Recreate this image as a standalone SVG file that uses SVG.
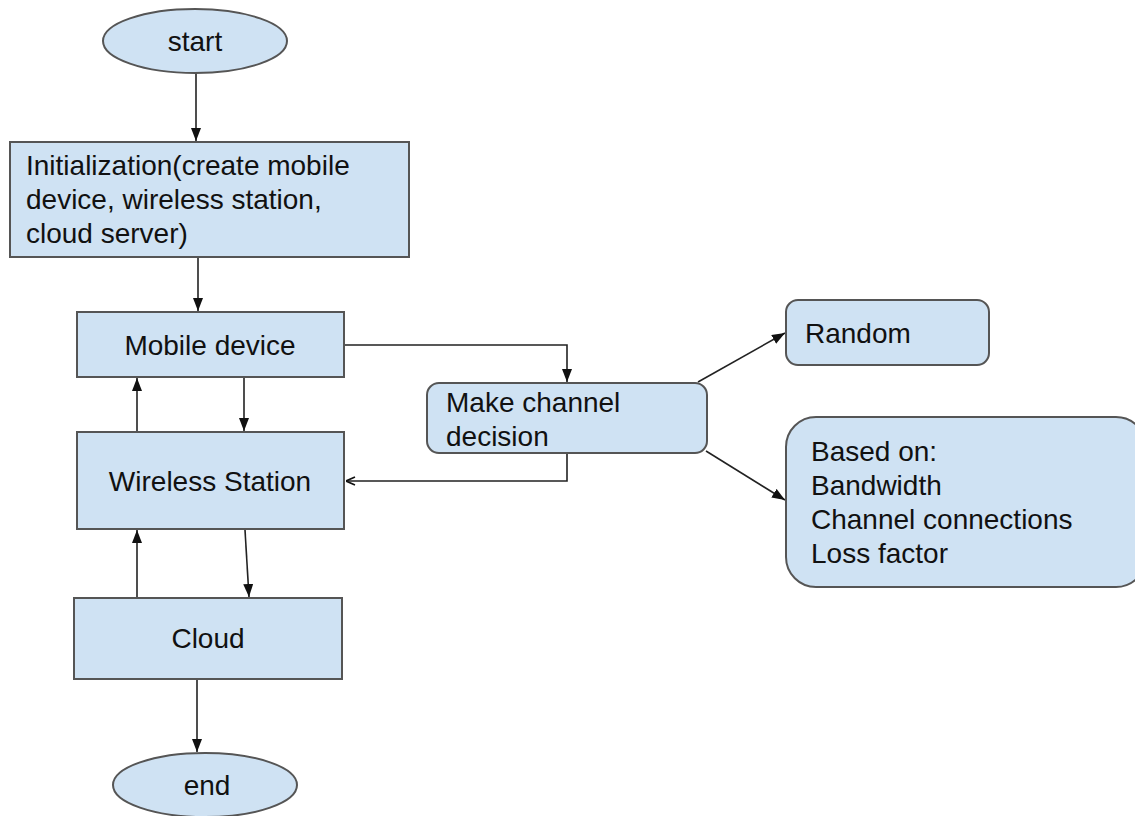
<svg xmlns="http://www.w3.org/2000/svg" width="1135" height="816" viewBox="0 0 1135 816">
<style>
.n{fill:#cfe2f3;stroke:#555;stroke-width:2}
.t{font-family:"Liberation Sans",Arial,sans-serif;font-size:28px;fill:#111}
.c{fill:none;stroke:#222;stroke-width:1.6}
</style>
<defs>
<marker id="ah" viewBox="0 0 13 10" refX="13" refY="5" markerWidth="13" markerHeight="10" markerUnits="userSpaceOnUse" orient="auto">
<path d="M0,0 L13,5 L0,10 z" fill="#111"/>
</marker>
<marker id="oh" viewBox="0 0 10 10" refX="10" refY="5" markerWidth="10" markerHeight="10" markerUnits="userSpaceOnUse" orient="auto">
<path d="M1,1 L10,5 L1,9" fill="none" stroke="#111" stroke-width="1.6"/>
</marker>
</defs>
<rect width="1135" height="816" fill="#fff"/>
<g id="connectors">
<line class="c" x1="196" y1="73" x2="196" y2="141" marker-end="url(#ah)"/>
<line class="c" x1="198" y1="258" x2="198" y2="311" marker-end="url(#ah)"/>
<line class="c" x1="244" y1="378" x2="244" y2="431" marker-end="url(#ah)"/>
<line class="c" x1="137" y1="431" x2="137" y2="378" marker-end="url(#ah)"/>
<polyline class="c" points="345,345 567,345 567,382" marker-end="url(#ah)"/>
<polyline class="c" points="567,454 567,481 346,481" marker-end="url(#oh)"/>
<line class="c" x1="698" y1="382" x2="785" y2="333" marker-end="url(#ah)"/>
<line class="c" x1="706" y1="451" x2="785" y2="500" marker-end="url(#ah)"/>
<line class="c" x1="137" y1="597" x2="137" y2="530" marker-end="url(#ah)"/>
<line class="c" x1="245" y1="530" x2="249" y2="597" marker-end="url(#ah)"/>
<line class="c" x1="197" y1="680" x2="197" y2="752" marker-end="url(#ah)"/>
</g>
<g id="start">
<ellipse class="n" cx="195" cy="41" rx="92" ry="32"/>
<text class="t" x="195" y="51" text-anchor="middle">start</text>
</g>
<g id="init">
<rect class="n" x="10" y="142" width="399" height="115"/>
<text class="t" x="26" y="175">Initialization(create mobile</text>
<text class="t" x="26" y="209">device, wireless station,</text>
<text class="t" x="26" y="243">cloud server)</text>
</g>
<g id="mobile">
<rect class="n" x="77" y="312" width="267" height="65"/>
<text class="t" x="210" y="355" text-anchor="middle">Mobile device</text>
</g>
<g id="wireless">
<rect class="n" x="77" y="432" width="267" height="97"/>
<text class="t" x="210" y="491" text-anchor="middle">Wireless Station</text>
</g>
<g id="cloud">
<rect class="n" x="74" y="598" width="268" height="81"/>
<text class="t" x="208" y="648" text-anchor="middle">Cloud</text>
</g>
<g id="end">
<ellipse class="n" cx="205" cy="785" rx="92" ry="32"/>
<text class="t" x="207" y="795" text-anchor="middle">end</text>
</g>
<g id="decision">
<rect class="n" x="427" y="383" width="280" height="70" rx="12"/>
<text class="t" x="446" y="412">Make channel</text>
<text class="t" x="446" y="446">decision</text>
</g>
<g id="random">
<rect class="n" x="786" y="300" width="203" height="65" rx="12"/>
<text class="t" x="805" y="343">Random</text>
</g>
<g id="based">
<rect class="n" x="786" y="417" width="360" height="170" rx="30"/>
<text class="t" x="811" y="461">Based on:</text>
<text class="t" x="811" y="495">Bandwidth</text>
<text class="t" x="811" y="529">Channel connections</text>
<text class="t" x="811" y="563">Loss factor</text>
</g>
</svg>
